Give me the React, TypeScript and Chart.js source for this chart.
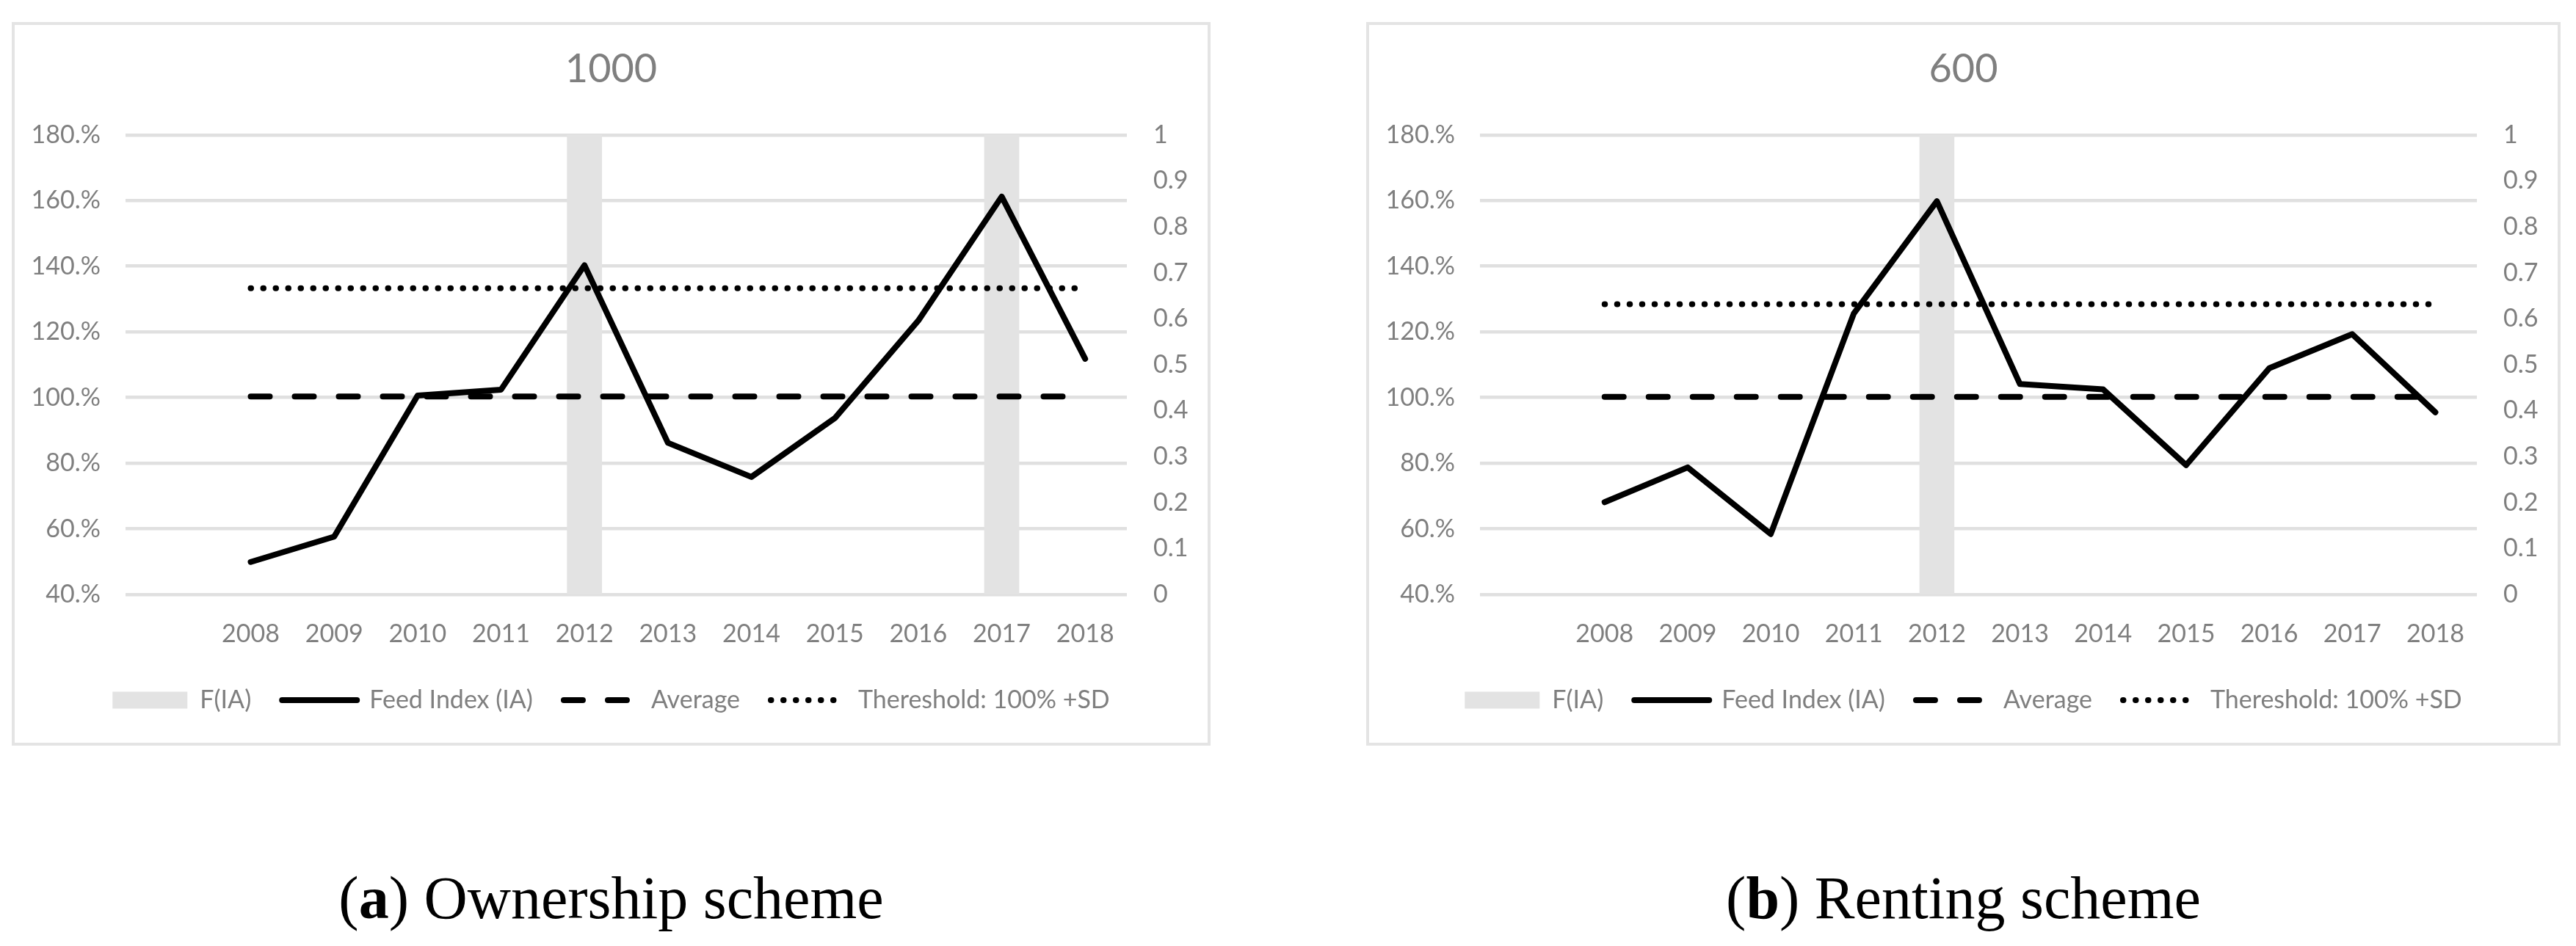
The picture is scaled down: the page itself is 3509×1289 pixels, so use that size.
import React, { useEffect, useRef } from "react";
import { Chart, registerables } from "chart.js";

Chart.register(...registerables);

// ---------- data ----------
const years = ["", "2008", "2009", "2010", "2011", "2012", "2013", "2014", "2015", "2016", "2017", "2018"];

const feedIndexOwnership = [null, 49.9, 57.6, 100.6, 102.4, 140.3, 86.2, 75.8, 93.7, 123.4, 161.2, 111.8];
const averageOwnership = [null, 100.3, 100.3, 100.3, 100.3, 100.3, 100.3, 100.3, 100.3, 100.3, 100.3, 100.3];
const thresholdOwnership = [null, 133.3, 133.3, 133.3, 133.3, 133.3, 133.3, 133.3, 133.3, 133.3, 133.3, 133.3];
const flagOwnership = [0, 0, 0, 0, 0, 1, 0, 0, 0, 0, 1, 0];

const feedIndexRenting = [null, 68.1, 78.7, 58.4, 125.6, 159.8, 104.1, 102.5, 79.4, 108.9, 119.3, 95.5];
const averageRenting = [null, 100.2, 100.2, 100.2, 100.2, 100.2, 100.2, 100.2, 100.2, 100.2, 100.2, 100.2];
const thresholdRenting = [null, 128.4, 128.4, 128.4, 128.4, 128.4, 128.4, 128.4, 128.4, 128.4, 128.4, 128.4];
const flagRenting = [0, 0, 0, 0, 0, 1, 0, 0, 0, 0, 0, 0];

const leftTickLabels = ["40.%", "60.%", "80.%", "100.%", "120.%", "140.%", "160.%", "180.%"];
const rightTickLabels = ["0", "0.1", "0.2", "0.3", "0.4", "0.5", "0.6", "0.7", "0.8", "0.9", "1"];
const seriesNames = ["F(IA)", "Feed Index (IA)", "Average", "Thereshold: 100% +SD"];

// ---------- styles ----------
const FONT = "Lato";
const TEXT = "#7f7f7f";
const GRID = "#e0e0e0";
const BAR = "#e3e3e3";
const FRAME = "#e4e4e4";
const LW = 8;

type ChartProps = {
  title: string;
  flags: number[];
  feed: (number | null)[];
  avg: (number | null)[];
  thr: (number | null)[];
  width: number;
  height: number;
};

function LineChart({ title, flags, feed, avg, thr, width, height }: ChartProps) {
  const ref = useRef<HTMLCanvasElement | null>(null);
  useEffect(() => {
    if (!ref.current) return;
    const chart = new Chart(ref.current, {
      type: "bar",
      data: {
        labels: years,
        datasets: [
          {
            type: "bar",
            label: seriesNames[0],
            data: flags,
            yAxisID: "y2",
            backgroundColor: BAR,
            borderWidth: 0,
            barPercentage: 0.42,
            categoryPercentage: 1,
            order: 1,
            pointStyle: "rect",
          } as any,
          {
            type: "line",
            label: seriesNames[1],
            data: feed,
            yAxisID: "y",
            borderColor: "#000",
            backgroundColor: "#000",
            borderWidth: LW,
            pointRadius: 0,
            tension: 0,
            borderJoinStyle: "round",
            borderCapStyle: "round",
            order: 0,
            pointStyle: "line",
          } as any,
          {
            type: "line",
            label: seriesNames[2],
            data: avg,
            yAxisID: "y",
            borderColor: "#000",
            backgroundColor: "#000",
            borderWidth: LW,
            borderDash: [26, 34],
            borderCapStyle: "round",
            pointRadius: 0,
            order: 0,
            pointStyle: "line",
          } as any,
          {
            type: "line",
            label: seriesNames[3],
            data: thr,
            yAxisID: "y",
            borderColor: "#000",
            backgroundColor: "#000",
            borderWidth: LW,
            borderDash: [0.5, 16.5],
            borderCapStyle: "round",
            pointRadius: 0,
            order: 0,
            pointStyle: "line",
          } as any,
        ],
      },
      options: {
        animation: false,
        responsive: false,
        devicePixelRatio: 1,
        layout: { padding: { top: 0, bottom: 31, left: 0, right: 0 } },
        plugins: {
          tooltip: { enabled: false },
          title: {
            display: true,
            text: title,
            color: TEXT,
            font: { family: FONT, size: 54, weight: "normal" },
            padding: { top: 28, bottom: 57 },
          },
          legend: {
            position: "bottom",
            labels: {
              usePointStyle: true,
              pointStyleWidth: 102,
              boxHeight: 23,
              padding: 42,
              color: TEXT,
              font: { family: FONT, size: 34 },
              sort: (a: any, b: any) => a.datasetIndex - b.datasetIndex,
              generateLabels: (c: any) => {
                const items = Chart.defaults.plugins.legend.labels.generateLabels(c);
                return items.map((it: any) => {
                  const ds: any = c.data.datasets[it.datasetIndex];
                  if (ds.type === "line") {
                    it.lineDash = ds.borderDash || [];
                    it.lineWidth = ds.borderWidth;
                    it.lineCap = ds.borderCapStyle;
                    it.strokeStyle = ds.borderColor;
                    it.pointStyle = "line";
                  } else {
                    it.lineWidth = 0;
                    it.fillStyle = ds.backgroundColor;
                    it.pointStyle = "rect";
                  }
                  it.fontColor = TEXT;
                  return it;
                });
              },
            },
          },
        },
        scales: {
          x: {
            grid: { display: false },
            border: { display: false },
            ticks: { color: TEXT, font: { family: FONT, size: 34 }, padding: 26, maxRotation: 0, autoSkip: false },
            afterFit: (s: any) => {
              s.height = 85;
            },
          },
          y: {
            position: "left",
            min: 40,
            max: 180,
            ticks: {
              stepSize: 20,
              color: TEXT,
              font: { family: FONT, size: 34 },
              padding: 34,
              callback: (_v: any, i: number) => leftTickLabels[i],
            },
            grid: { color: GRID, lineWidth: 4.5, drawTicks: false },
            border: { display: false },
            afterFit: (s: any) => {
              s.width = 151;
            },
          },
          y2: {
            position: "right",
            min: 0,
            max: 1,
            ticks: {
              stepSize: 0.1,
              color: TEXT,
              font: { family: FONT, size: 34 },
              padding: 36,
              callback: (_v: any, i: number) => rightTickLabels[i],
            },
            grid: { display: false, drawTicks: false },
            border: { display: false },
            afterFit: (s: any) => {
              s.width = 110;
            },
          },
        },
      } as any,
    });
    return () => chart.destroy();
  }, [title, flags, feed, avg, thr, width, height]);
  return <canvas ref={ref} width={width} height={height} style={{ display: "block", width, height }} />;
}

const boxStyle = (left: number, width: number): React.CSSProperties => ({
  position: "absolute",
  left,
  top: 30,
  width,
  height: 986,
  boxSizing: "border-box",
  border: `4px solid ${FRAME}`,
  background: "#fff",
});

const captionStyle = (left: number, width: number): React.CSSProperties => ({
  position: "absolute",
  left,
  top: 1183,
  width,
  textAlign: "center",
  fontFamily: "'Liberation Serif', 'Times New Roman', serif",
  fontSize: 82,
  lineHeight: "82px",
  color: "#000",
  whiteSpace: "nowrap",
});

export default function App() {
  return (
    <div style={{ position: "absolute", left: 0, top: 0, width: 3509, height: 1289, background: "#fff", overflow: "hidden" }}>
      <div style={boxStyle(16, 1633)}>
        <LineChart
          title="1000"
          flags={flagOwnership}
          feed={feedIndexOwnership}
          avg={averageOwnership}
          thr={thresholdOwnership}
          width={1625}
          height={978}
        />
      </div>
      <div style={boxStyle(1861, 1627)}>
        <LineChart
          title="600"
          flags={flagRenting}
          feed={feedIndexRenting}
          avg={averageRenting}
          thr={thresholdRenting}
          width={1619}
          height={978}
        />
      </div>
      <div style={captionStyle(16, 1633)}>
        (<b>a</b>) Ownership scheme
      </div>
      <div style={captionStyle(1861, 1627)}>
        (<b>b</b>) Renting scheme
      </div>
    </div>
  );
}
